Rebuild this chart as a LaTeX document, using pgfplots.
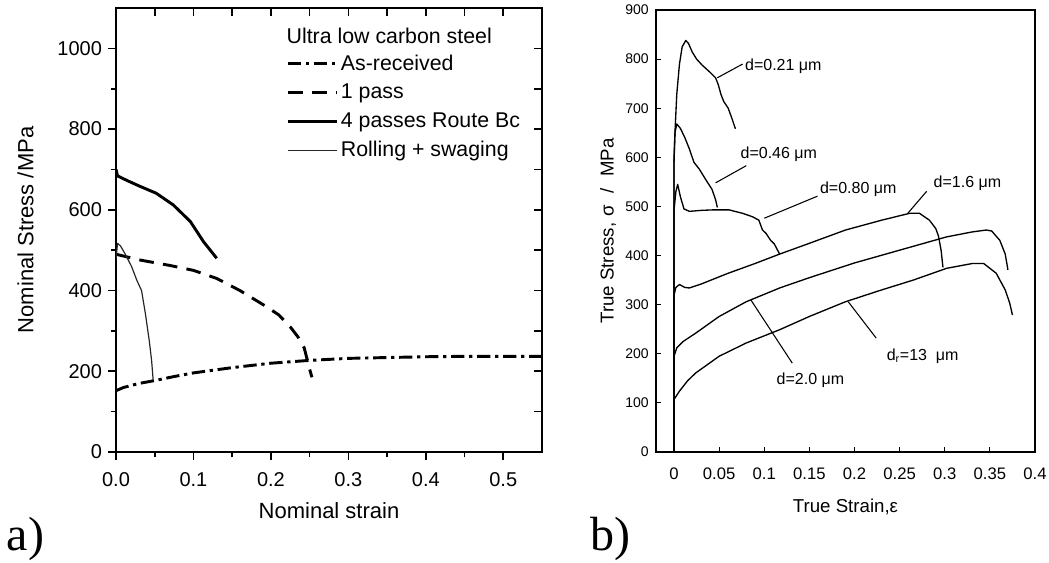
\documentclass[border=0pt]{standalone}
\usepackage{fontspec}
\setmainfont{Liberation Sans}
\newfontfamily\seriffont{Liberation Serif}
\usepackage{pgfplots}
\pgfplotsset{compat=1.18}

% left panel
\pgfplotstableread{
x y
0 152
0.01 160
0.03 170
0.05 177
0.075 187
0.1 196
0.15 209
0.2 220
0.25 227
0.3 232
0.35 234
0.4 236
0.45 237
0.5 237
0.55 237
}\asrec
\pgfplotstableread{
x y
0 490
0.03 476
0.07 462
0.1 450
0.13 430
0.16 400
0.19 365
0.21 340
0.225 310
0.235 285
0.243 258
0.247 228
0.25 205
0.253 185
}\onepass
\pgfplotstableread{
x y
0 700
0.002 684
0.015 672
0.03 659
0.052 641
0.074 612
0.096 571
0.113 521
0.13 480
}\fourpass
\pgfplotstableread{
x y
0 478
0.002 517
0.006 510
0.012 490
0.02 460
0.027 425
0.033 400
0.038 342
0.043 275
0.046 226
0.048 178
}\rollsw

\pgfplotsset{
  leftbox/.style={
    at={(87pt,82.5pt)}, anchor=south west, scale only axis,
    width=319.5pt, height=333pt,
    xmin=0, xmax=0.55, ymin=0, ymax=1100,
    xtick={0,0.1,0.2,0.3,0.4,0.5}, ytick={0,200,400,600,800,1000},
    minor x tick num=1, minor y tick num=1,
    scaled ticks=false,
    tick style={black, line width=1.2pt},
  },
}

\begin{document}
\begin{tikzpicture}
\path[use as bounding box] (0,0) rectangle (786.75pt,421.5pt);

% inward ticks on top and right
\begin{axis}[leftbox, tick pos=right, tick align=inside,
  major tick length=6pt, minor tick length=6pt,
  axis line style={draw=none}, xticklabels={}, yticklabels={}]
\addplot[draw=none] coordinates {(0,0)};
\end{axis}

\begin{axis}[leftbox, tick pos=left, tick align=outside,
  major tick length=6pt, minor tick length=4pt,
  axis line style={line width=1.5pt},
  /pgf/number format/assume math mode=true,
  xticklabel style={/pgf/number format/fixed, /pgf/number format/fixed zerofill, /pgf/number format/precision=1, yshift=-6pt},
  yticklabel style={/pgf/number format/set thousands separator={}, xshift=-1pt},
  tick label style={font=\fontsize{15}{17}\selectfont},
  label style={font=\fontsize{16.5}{19}\selectfont},
  xlabel style={yshift=-5pt}, ylabel style={yshift=11pt},
  xlabel={Nominal strain}, ylabel={Nominal Stress /MPa},
  legend cell align=left,
  legend image code/.code={\draw[#1] (0pt,0pt) -- (37pt,0pt);},
  legend style={draw=none, fill=none, at={(0.40,0.900)}, anchor=north west,
    inner sep=0pt, row sep=6pt, font=\fontsize{16}{18}\selectfont,
    nodes={inner sep=1.5pt}},
]
\addplot[black, line width=2.2pt, dash pattern=on 10pt off 3.5pt on 2.5pt off 3.5pt] table {\asrec};
\addlegendentry{As-received}
\addplot[black, line width=2.2pt, dash pattern=on 11pt off 7pt] table {\onepass};
\addlegendentry{1 pass}
\addplot[black, line width=2.2pt, line join=round] table {\fourpass};
\addlegendentry{4 passes Route Bc}
\addplot[black!85, line width=0.9pt, line join=round] table {\rollsw};
\addlegendentry{Rolling + swaging}
\node[anchor=base west, inner sep=0pt, font=\fontsize{16}{18}\selectfont] at (rel axis cs:0.40,0.920) {Ultra low carbon steel};
\end{axis}

\begin{axis}[
  at={(492pt,82.5pt)}, anchor=south west, scale only axis,
  width=284.25pt, height=331.5pt,
  xmin=-0.02, xmax=0.4, ymin=0, ymax=900,
  xtick={0,0.05,0.1,0.15,0.2,0.25,0.3,0.35,0.4},
  xticklabels={0,0.05,0.1,0.15,0.2,0.25,0.3,0.35,0.4},
  ytick={0,100,200,300,400,500,600,700,800,900},
  scaled ticks=false, tick pos=left,
  tick align=inside, major tick length=4pt,
  tick style={black, line width=0.8pt},
  axis line style={line width=1.3pt},
  /pgf/number format/assume math mode=true,
  xticklabel style={font=\fontsize{12.5}{14}\selectfont, yshift=-8pt},
  yticklabel style={font=\fontsize{10.5}{12}\selectfont, xshift=-2pt},
  label style={font=\fontsize{14}{16}\selectfont},
  xlabel style={yshift=-8pt}, ylabel style={yshift=0pt},
  xlabel={True Strain,ε}, ylabel={True Stress,\hspace{5pt}σ\hspace{8pt}/\hspace{9pt}MPa},
]
\addplot[black, no markers, line width=1pt, line join=round] coordinates {(0,0)(0,600)(0.001,650)(0.003,728)(0.006,790)(0.009,825)(0.013,838)(0.016,832)(0.02,815)(0.025,800)(0.031,788)(0.04,773)(0.046,762)(0.049,748)(0.052,728)(0.055,714)(0.06,700)(0.064,680)(0.068,658)};
\addplot[black, no markers, line width=1pt, line join=round] coordinates {(0,0)(0,590)(0.001,650)(0.003,668)(0.007,659)(0.012,640)(0.017,617)(0.022,590)(0.028,576)(0.035,555)(0.042,535)(0.046,514)(0.048,498)};
\addplot[black, no markers, line width=1pt, line join=round] coordinates {(0,0)(0,493)(0.002,530)(0.004,545)(0.007,520)(0.011,495)(0.017,490)(0.03,492)(0.043,493)(0.061,493)(0.076,486)(0.087,479)(0.094,472)(0.098,452)(0.102,445)(0.107,431)(0.111,424)(0.115,410)(0.117,403)};
\addplot[black, no markers, line width=1pt, line join=round] coordinates {(0,0)(0,320)(0.002,335)(0.006,341)(0.012,335)(0.017,334)(0.03,342)(0.06,364)(0.09,384)(0.117,403)(0.15,425)(0.19,452)(0.23,472)(0.261,486)(0.272,486)(0.283,472)(0.29,455)(0.293,440)(0.296,410)(0.298,376)};
\addplot[black, no markers, line width=1pt, line join=round] coordinates {(0,0)(0,195)(0.003,212)(0.01,225)(0.024,242)(0.05,276)(0.08,306)(0.117,334)(0.15,355)(0.2,385)(0.25,411)(0.302,438)(0.33,448)(0.346,452)(0.352,450)(0.361,431)(0.367,403)(0.37,371)};
\addplot[black, no markers, line width=1pt, line join=round] coordinates {(0,0)(0,107)(0.006,124)(0.015,145)(0.024,161)(0.05,195)(0.08,222)(0.117,249)(0.15,276)(0.19,306)(0.23,330)(0.265,350)(0.302,374)(0.331,384)(0.343,384)(0.357,364)(0.367,330)(0.372,303)(0.375,279)};
% leader lines and labels
\draw[line width=0.8pt] (axis cs:0.048,762) -- (axis cs:0.076,790);
\draw[line width=0.8pt] (axis cs:0.046,548) -- (axis cs:0.08,583);
\draw[line width=0.8pt] (axis cs:0.1,476) -- (axis cs:0.159,521);
\draw[line width=0.8pt] (axis cs:0.259,486) -- (axis cs:0.28,531);
\draw[line width=0.8pt] (axis cs:0.085,310) -- (axis cs:0.131,181);
\draw[line width=0.8pt] (axis cs:0.193,306) -- (axis cs:0.224,232);
\begin{scope}[every node/.style={anchor=west, inner sep=1pt, font=\fontsize{12}{14}\selectfont}]
\node at (axis cs:0.077,785) {d=0.21 μm};
\node at (axis cs:0.072,607) {d=0.46 μm};
\node at (axis cs:0.160,536) {d=0.80 μm};
\node at (axis cs:0.286,548) {d=1.6 μm};
\node at (axis cs:0.112,147) {d=2.0 μm};
\node at (axis cs:0.234,195) {d$_\mathrm{r}$=13 \ μm};
\end{scope}
\end{axis}

\node[anchor=base west, inner sep=0pt, font=\seriffont\fontsize{36}{40}\selectfont] at (5pt,8.5pt) {a)};
\node[anchor=base west, inner sep=0pt, font=\seriffont\fontsize{36}{40}\selectfont] at (443pt,8.5pt) {b)};
\end{tikzpicture}
\end{document}
